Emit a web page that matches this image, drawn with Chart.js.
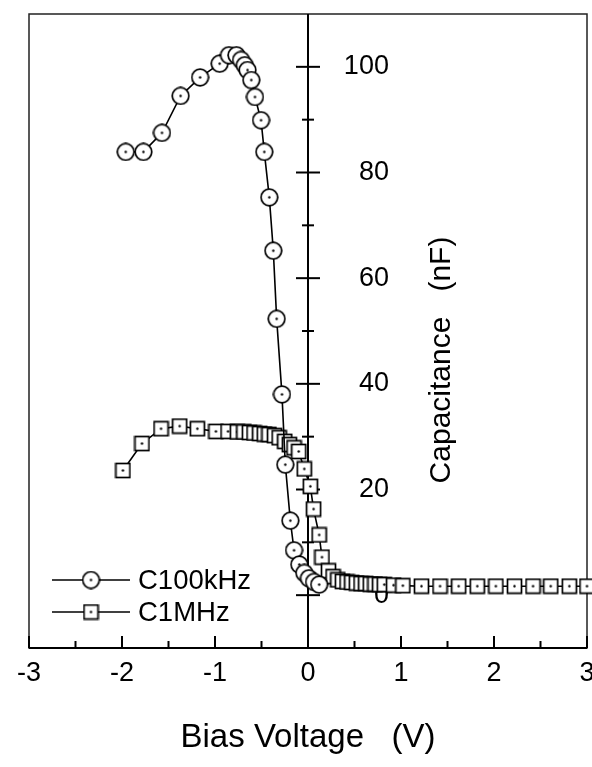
<!DOCTYPE html>
<html>
<head>
<meta charset="utf-8">
<script src="https://cdn.jsdelivr.net/npm/chart.js@4/dist/chart.umd.min.js"></script>
<style>
html,body{margin:0;padding:0;background:#fff;}
#wrap{width:592px;height:767px;}
</style>
</head>
<body>
<div id="wrap"><canvas id="c" width="592" height="767"></canvas></div>
<script>
// ---- data ----
const seriesLabels = ['C100kHz', 'C1MHz'];
const c100kX = [-1.96,-1.77,-1.57,-1.37,-1.16,-0.95,-0.85,-0.77,-0.72,-0.68,-0.65,-0.61,-0.57,-0.505,-0.47,-0.416,-0.373,-0.337,-0.28,-0.244,-0.19,-0.15,-0.094,-0.04,0.01,0.065,0.12];
const c100kY = [83.9,83.9,87.5,94.5,98.0,100.6,102.2,102.2,101.3,100.3,99.4,97.5,94.3,89.9,83.9,75.3,65.2,52.3,38.0,24.7,14.1,8.5,5.8,4.2,3.2,2.5,2.0];
const c1MX = [-1.99,-1.785,-1.58,-1.38,-1.19,-0.99,-0.86,-0.76,-0.69,-0.63,-0.58,-0.52,-0.47,-0.42,-0.36,-0.31,-0.25,-0.20,-0.15,-0.10,-0.04,0.025,0.06,0.12,0.15,0.22,0.27,0.32,0.37,0.42,0.47,0.52,0.57,0.62,0.67,0.72,0.77,0.82,0.92,1.02,1.22,1.42,1.62,1.82,2.02,2.22,2.42,2.61,2.81,3.0];
const c1MY = [23.6,28.7,31.5,32.0,31.5,31.0,31.0,30.9,30.9,30.8,30.7,30.6,30.5,30.4,30.2,29.8,29.1,28.5,27.9,27.2,23.9,20.6,16.3,11.4,7.2,4.6,3.5,2.9,2.6,2.5,2.4,2.3,2.2,2.2,2.1,2.1,2.0,2.0,1.9,1.8,1.7,1.7,1.7,1.7,1.7,1.7,1.7,1.7,1.7,1.7];
const xTickLabels = ['-3','-2','-1','0','1','2','3'];
const yTickLabels = ['0','20','40','60','80','100'];
const xTitle = 'Bias Voltage   (V)';
const yTitle = 'Capacitance   (nF)';

const FONT = '"Liberation Sans", Arial, Helvetica, sans-serif';
const Y_LABEL_EDGE = 0.87; // x-value where the right-aligned y tick labels end

function makeMarker(kind) {
  const s = kind === 'circle' ? 19 : 17;
  const cv = document.createElement('canvas');
  cv.width = s; cv.height = s;
  const g = cv.getContext('2d');
  g.fillStyle = '#fff';
  g.strokeStyle = '#000';
  g.lineWidth = 1.7;
  if (kind === 'circle') {
    g.beginPath(); g.arc(s/2, s/2, s/2 - 1.2, 0, Math.PI*2); g.fill(); g.stroke();
  } else {
    g.fillRect(1.5, 1.5, s-3, s-3); g.strokeRect(1.5, 1.5, s-3, s-3);
  }
  g.fillStyle = '#000';
  g.beginPath(); g.arc(s/2, s/2, 1.2, 0, Math.PI*2); g.fill();
  return cv;
}
const circleImg = makeMarker('circle');
const squareImg = makeMarker('square');

const toPts = (xs, ys) => xs.map((x, i) => ({x, y: ys[i]}));

function seg(ctx, x1, y1, x2, y2) { ctx.beginPath(); ctx.moveTo(x1, y1); ctx.lineTo(x2, y2); ctx.stroke(); }

const decor = {
  id: 'decor',
  beforeDatasetsDraw(chart) {
    const {ctx, chartArea: a, scales: {x, y}} = chart;
    ctx.save();
    ctx.strokeStyle = '#222';
    ctx.lineWidth = 1.5;
    ctx.strokeRect(a.left, a.top, a.right - a.left, a.bottom - a.top);
    ctx.strokeStyle = '#000';
    ctx.lineWidth = 2;
    const x0 = x.getPixelForValue(0);
    seg(ctx, x0, a.top, x0, a.bottom);
    seg(ctx, a.left, a.bottom, a.right, a.bottom);
    for (let v = 0; v <= 100; v += 10) {
      const py = y.getPixelForValue(v);
      const half = v % 20 === 0 ? 12 : 6;
      seg(ctx, x0 - half, py, x0 + half, py);
    }
    for (let v = -3; v <= 3; v += 0.5) {
      const px = x.getPixelForValue(v);
      const len = Number.isInteger(v) ? 12 : 7;
      seg(ctx, px, a.bottom, px, a.bottom - len);
    }
    ctx.restore();
  },
  afterDraw(chart) {
    const {ctx} = chart;
    ctx.save();
    ctx.translate(442, 360);
    ctx.rotate(-Math.PI/2);
    ctx.font = '30px ' + FONT;
    ctx.fillStyle = '#000';
    ctx.textAlign = 'center';
    ctx.textBaseline = 'middle';
    ctx.fillText(yTitle, 0, 0);
    ctx.restore();
    ctx.save();
    const rows = [580, 612];
    chart.data.datasets.forEach((ds, i) => {
      const yy = rows[i];
      ctx.strokeStyle = '#000'; ctx.lineWidth = 1.5;
      seg(ctx, 52, yy, 130, yy);
      const img = ds.pointStyle;
      ctx.drawImage(img, 91 - img.width/2, yy - img.height/2);
      ctx.font = '27.5px ' + FONT;
      ctx.fillStyle = '#000';
      ctx.textAlign = 'left';
      ctx.textBaseline = 'middle';
      ctx.fillText(ds.label, 138, yy + 1);
    });
    ctx.restore();
  }
};

new Chart(document.getElementById('c'), {
  type: 'scatter',
  data: {
    datasets: [
      { label: seriesLabels[0], data: toPts(c100kX, c100kY), showLine: true, borderColor: '#000', borderWidth: 1.6, pointStyle: circleImg, pointRadius: 9, pointHoverRadius: 9, clip: false },
      { label: seriesLabels[1], data: toPts(c1MX, c1MY), showLine: true, borderColor: '#000', borderWidth: 1.6, pointStyle: squareImg, pointRadius: 8, pointHoverRadius: 8, clip: false }
    ]
  },
  options: {
    responsive: false,
    animation: false,
    devicePixelRatio: 1,
    layout: { autoPadding: false, padding: { left: 29, right: 5, top: 14, bottom: 0 } },
    plugins: { legend: { display: false }, tooltip: { enabled: false } },
    scales: {
      x: {
        type: 'linear', position: 'bottom', min: -3, max: 3,
        grid: { display: false, drawTicks: false },
        border: { display: false },
        ticks: {
          stepSize: 1, padding: 9, color: '#000', maxRotation: 0,
          font: { size: 27, family: FONT },
          callback: (v) => Number.isInteger(v) ? xTickLabels[Math.round(v) + 3] : ''
        },
        title: { display: true, text: xTitle, color: '#000', font: { size: 33, family: FONT }, padding: { top: 0, bottom: 9 } },
        afterFit: (s) => { s.height = 119; s.paddingLeft = 0; s.paddingRight = 0; }
      },
      y: {
        type: 'linear', position: { x: Y_LABEL_EDGE }, min: -10, max: 110,
        grid: { display: false, drawTicks: false },
        border: { display: false },
        ticks: {
          stepSize: 10, padding: 0, color: '#000',
          font: { size: 27, family: FONT },
          callback: (v) => yTickLabels.includes(String(v)) ? String(v) : ''
        },
        afterFit: (s) => { s.width = 0; s.paddingTop = 0; s.paddingBottom = 0; s.paddingLeft = 0; s.paddingRight = 0; }
      }
    }
  },
  plugins: [decor]
});
</script>
</body>
</html>
